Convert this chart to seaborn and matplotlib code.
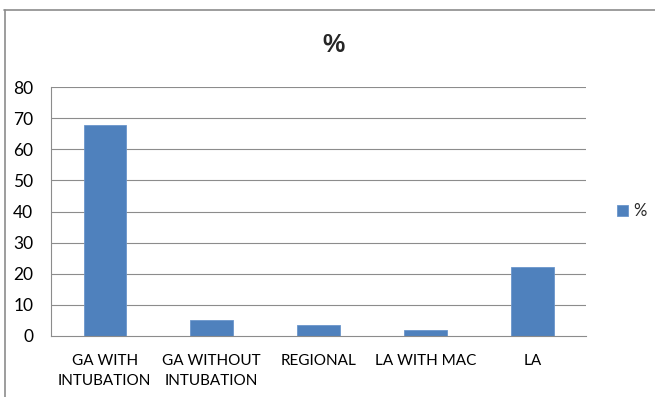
import matplotlib
matplotlib.use("Agg")
import matplotlib.pyplot as plt
from matplotlib.lines import Line2D
import seaborn as sns
import pandas as pd
import numpy as np

categories = ["GA WITH\nINTUBATION", "GA WITHOUT\nINTUBATION", "REGIONAL", "LA WITH MAC", "LA"]
values = [68, 5, 3.5, 1.7, 22]
yticks = [0, 10, 20, 30, 40, 50, 60, 70, 80]
series_name = "%"

sns.set_theme(style="white")
plt.rcParams["font.family"] = ["Lato", "DejaVu Sans"]

bar_color = "#4F81BD"
grid_color = "#8C8C8C"

df = pd.DataFrame({"category": categories, "value": values})

W, H = 655, 397
fig = plt.figure(figsize=(W / 100, H / 100), dpi=100)
x0, x1, y0, y1 = 51.3, 586.0, 335.7, 87.3
ax = fig.add_axes([x0 / W, 1 - y0 / H, (x1 - x0) / W, (y0 - y1) / H])

sns.barplot(data=df, x="category", y="value", color=bar_color, width=0.397,
            saturation=1, ax=ax, label=series_name, edgecolor="#6B96CC", linewidth=0.6)

ax.set_ylim(0, 80)
ax.set_xlim(-0.5, len(categories) - 0.5)
ax.set_yticks(yticks)
ax.set_yticklabels([str(v) for v in yticks], fontsize=12.5)
for v in yticks[1:]:
    ax.axhline(v, color=grid_color, linewidth=0.8, zorder=0)

ax.set_xlabel("")
ax.set_ylabel("")
ax.set_xticks(range(len(categories)))
ax.set_xticklabels(categories, fontsize=11, linespacing=1.55)
ax.tick_params(axis="x", which="major", length=0, pad=13)
ax.set_xticks(np.arange(-0.5, len(categories), 1.0), minor=True)
ax.tick_params(axis="x", which="minor", length=5, color=grid_color, width=0.8, direction="out")
ax.tick_params(axis="y", length=6, color=grid_color, width=0.8, direction="out", pad=7,
               labelcolor="black")
ax.tick_params(axis="x", labelcolor="black")

for side in ["top", "right"]:
    ax.spines[side].set_visible(False)
for side in ["left", "bottom"]:
    ax.spines[side].set_color(grid_color)
    ax.spines[side].set_linewidth(0.8)

fig.text(333 / W, 1 - 45 / H, "%", ha="center", va="center", fontsize=18,
         fontweight="bold", family=["Liberation Sans", "DejaVu Sans"])

leg = ax.legend(loc="center left", bbox_to_anchor=(1.045, 0.5), frameon=False,
                fontsize=12, handlelength=0.65, handleheight=0.65, handletextpad=0.35,
                borderaxespad=0)

# chart frame (top and left edges)
fig.add_artist(Line2D([4 / W, 1.0], [1 - 9.5 / H, 1 - 9.5 / H], color="#8C8C8C",
                      linewidth=1.2, transform=fig.transFigure))
fig.add_artist(Line2D([4.5 / W, 4.5 / W], [0, 1 - 9.5 / H], color="#8C8C8C",
                      linewidth=1.2, transform=fig.transFigure))

fig.savefig("out.png", dpi=100)
